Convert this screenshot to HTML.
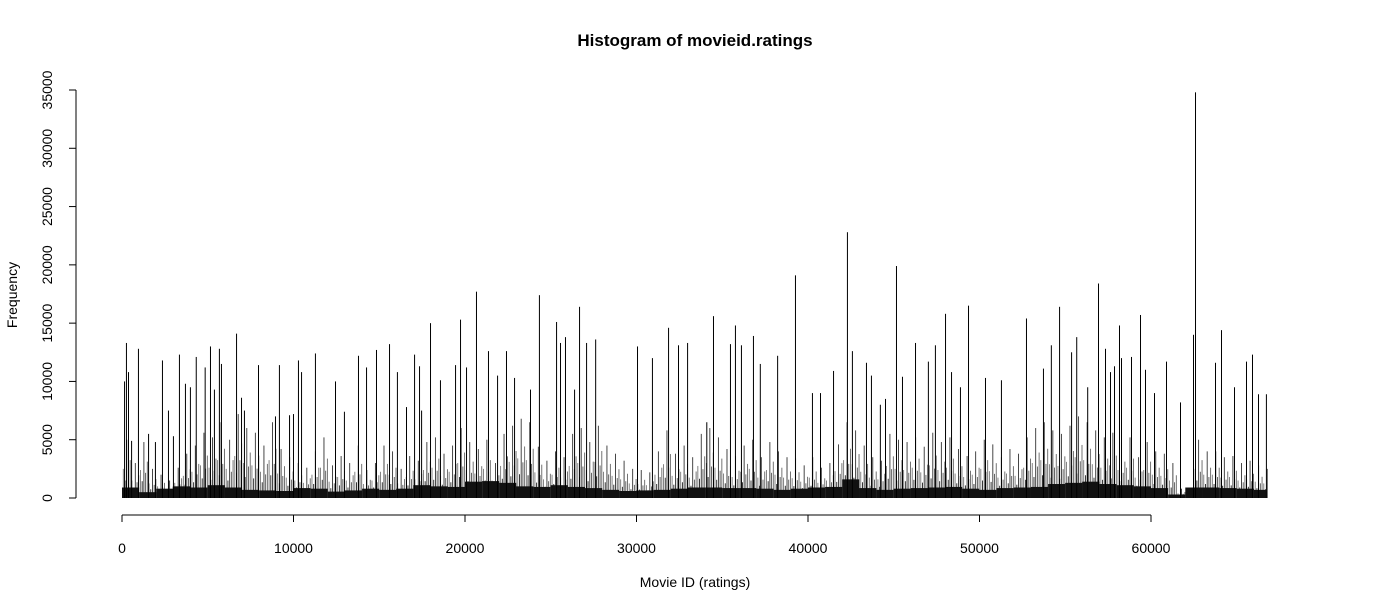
<!DOCTYPE html>
<html><head><meta charset="utf-8"><style>
body{margin:0;background:#fff;font-family:"Liberation Sans",sans-serif}
svg{display:block}
</style></head><body>
<svg id="chart" width="1390" height="592" xmlns="http://www.w3.org/2000/svg">
<text x="695" y="46" text-anchor="middle" font-size="17" font-weight="bold" font-family="Liberation Sans, sans-serif">Histogram of movieid.ratings</text>
<text x="695" y="587" text-anchor="middle" font-size="14" font-family="Liberation Sans, sans-serif">Movie ID (ratings)</text>
<text transform="translate(17,295) rotate(-90)" text-anchor="middle" font-size="14" font-family="Liberation Sans, sans-serif">Frequency</text>
<g id="axes"></g>
<g id="bars"></g>
</svg>
<script>
const xTicks=[0,10000,20000,30000,40000,50000,60000];
const yTicks=[0,5000,10000,15000,20000,25000,30000,35000];
// dense floor level per 1000-ID chunk
const floorLevels=[900,500,800,1000,900,1100,900,700,650,600,850,800,550,650,800,700,800,1100,1000,950,1400,1450,1300,1000,950,1100,950,850,700,600,650,700,800,900,900,850,850,800,700,800,900,950,1600,850,700,800,850,900,950,800,700,850,900,950,1200,1300,1400,1200,1100,1000,850,300,900,900,850,800,700];
// mid-level bars per 500-ID chunk
const midLevels=[5000,3000,4800,2500,2000,1500,2600,3800,4500,5600,5200,6500,5000,7200,6000,5600,4500,6500,4200,3500,3000,2600,4000,5200,2800,3600,3000,4500,2400,3000,4500,4000,2500,3600,3200,4800,5200,3800,4500,6000,4800,4200,5000,3000,5500,6200,6800,6500,4400,3200,4000,3500,5500,6000,4800,6200,4500,3800,3200,2500,2400,2200,4000,5800,3800,4500,3500,5500,6000,5200,4200,3600,4500,5000,3500,4800,4000,3500,3400,2800,3500,2600,3000,4600,6500,5800,4500,3500,3200,5500,5000,4800,5200,4400,5600,4800,5200,4200,3600,4000,5000,4600,3500,4200,3800,5200,6000,6500,5800,5500,6200,7000,6500,5800,5200,5600,4800,5200,3500,4800,4000,3800,3000,800,600,5000,4000,4000,3500,3600,3000,3200,2800,2500];
const spikeIds=[120,230,350,530,930,1520,1920,2330,2680,2970,3320,3670,3960,4300,4820,5130,5360,5650,5770,6650,6940,7110,7930,8920,9150,9740,9970,10260,10440,11250,12420,12940,13760,14230,14810,15570,16030,16560,17030,17320,17440,17960,18540,19420,19710,20060,20640,21340,21870,22390,22860,23790,24310,25310,25540,25830,26360,26650,27060,27590,30030,30900,31840,32420,32950,34070,34460,35450,35740,36090,36790,37190,38200,39240,40230,40700,41460,42270,42560,43380,43670,44190,44490,45130,45480,46240,46990,47400,47990,48340,48860,49330,50320,51250,52710,53700,54160,54640,55340,55640,56280,56910,57318,57609,57843,58134,58251,58834,59359,59650,60175,60875,61691,62449,62566,63732,64082,64840,65539,65889,66239,66700];
const spikeVals=[10000,13300,10800,4900,12800,5500,4800,11800,7500,5300,12300,9800,9500,12100,11200,13000,9300,12800,11500,14100,8600,7500,11400,7000,11400,7100,7200,11800,10800,12400,10000,7400,12200,11200,12700,13200,10800,7800,12300,11300,7500,15000,10100,11400,15300,11200,17700,12600,10500,12600,10300,9300,17400,15100,13300,13800,9300,16400,13300,13600,13000,12000,14600,13100,13300,6500,15600,13200,14800,13100,13900,11500,12200,19100,9000,9000,10900,22800,12600,11600,10500,8000,8500,19900,10400,13300,11700,13100,15800,10800,9500,16500,10300,10100,15400,11100,13100,16400,12500,13800,9500,18400,12800,10800,11300,14800,12000,12100,15700,11000,9000,11700,8200,14000,34800,11600,14400,9500,11700,12300,8900,8900];
const NS='http://www.w3.org/2000/svg';
const X0=122,PXPER=1029/60000,Y0=498,PYPER=408/35000,XMAX=66750;
const sx=v=>X0+v*PXPER, sy=v=>Y0-v*PYPER;
const axes=document.getElementById('axes'),bars=document.getElementById('bars');
function mk(tag,attrs,parent){const e=document.createElementNS(NS,tag);for(const k in attrs)e.setAttribute(k,attrs[k]);parent.appendChild(e);return e;}
let xl=mk('line',{x1:sx(0),x2:sx(60000),y1:515,y2:515,stroke:'#000'},axes);


xTicks.forEach(t=>{
 mk('line',{x1:sx(t),x2:sx(t),y1:515,y2:522,stroke:'#000'},axes);
 const tx=mk('text',{x:sx(t),y:553,'text-anchor':'middle','font-size':14},axes);tx.textContent=t;
 
 
});
let yl=mk('line',{x1:76,x2:76,y1:sy(0),y2:sy(35000),stroke:'#000'},axes);


yTicks.forEach(t=>{
 mk('line',{x1:69,x2:76,y1:sy(t),y2:sy(t),stroke:'#000'},axes);
 const tx=mk('text',{transform:`translate(52,${sy(t)}) rotate(-90)`,'text-anchor':'middle','font-size':14},axes);tx.textContent=t;
 
 
});
const mids=[[0.1,0.5,'#777'],[0.3,0.3,'#222'],[0.5,1,'#333'],[0.7,0.45,'#555'],[0.9,0.65,'#666']];
midLevels.forEach((v,i)=>{
 mids.forEach(m=>{
  const pos=i*500+m[0]*500; if(pos>XMAX) return;
  const h=v*m[1];
  const r=mk('rect',{x:sx(pos),y:sy(h),width:0.9,height:Y0-sy(h),fill:m[2]},bars);
  
  
 });
});
floorLevels.forEach((v,i)=>{
 const a=i*1000,b=Math.min(a+1000,XMAX); if(b<=a) return;
 const r=mk('rect',{x:sx(a),y:sy(v),width:sx(b)-sx(a),height:Y0-sy(v),fill:'#111'},bars);
 
 
});
spikeIds.forEach((id,i)=>{
 const v=spikeVals[i];
 const r=mk('rect',{x:sx(id),y:sy(v),width:1,height:Y0-sy(v),fill:'#000'},bars);
 
 
});
</script>
</body></html>
